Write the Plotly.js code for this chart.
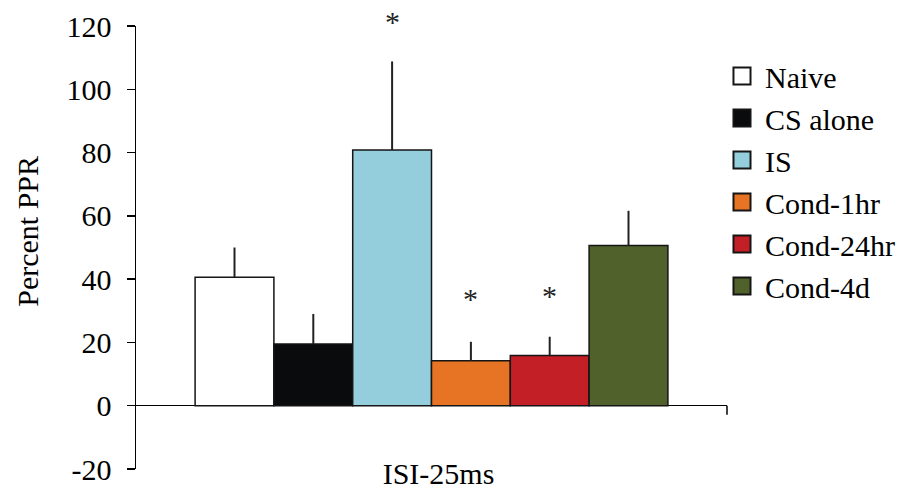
<!DOCTYPE html>
<html>
<head>
<meta charset="utf-8">
<script src="https://cdn.plot.ly/plotly-3.0.1.min.js"></script>
<style>html,body{margin:0;padding:0;background:#fff;}#chart{width:912px;height:494px;}</style>
</head>
<body>
<div id="chart"></div>
<script>
// ---- data ----
const categories = ['ISI-25ms'];
const groups = ['Naive', 'CS alone', 'IS', 'Cond-1hr', 'Cond-24hr', 'Cond-4d'];
const means = [40.6, 19.5, 80.8, 14.2, 15.9, 50.6];
const errorsUp = [9.4, 9.5, 28.0, 6.0, 5.9, 11.0];
const sigMarks = ['', '', '*', '*', '*', ''];
const sigLevels = [null, null, 121.3, 34.0, 34.8, null];
const yTicks = [-20, 0, 20, 40, 60, 80, 100, 120];

const colors = ['#ffffff', '#0a0b0d', '#94cddc', '#e77325', '#c21f27', '#50612c'];
const FONT = 'Liberation Serif, Times New Roman, serif';
const BARGAP = 0.2;
const Y_RANGE = [-20, 120];

const traces = groups.map((g, i) => ({
  type: 'bar',
  name: g,
  x: categories,
  y: [means[i]],
  legendgroup: 'g' + i,
  marker: {color: colors[i], line: {color: '#151515', width: 1.5}},
  error_y: {type: 'data', symmetric: false, array: [errorsUp[i]], arrayminus: [0],
            color: '#222', thickness: 2, width: 0, visible: true},
  hoverinfo: 'none'
}));

// asterisk annotations placed at each bar's centre within the group
const n = groups.length;
const slot = (1 - BARGAP) / n;
const annotations = [];
sigMarks.forEach((m, i) => {
  if (!m) return;
  annotations.push({
    xref: 'x', yref: 'paper',
    x: -(1 - BARGAP) / 2 + slot * (i + 0.5),
    y: (sigLevels[i] - Y_RANGE[0]) / (Y_RANGE[1] - Y_RANGE[0]),
    text: m, showarrow: false, font: {family: FONT, size: 30, color: '#222'},
    xanchor: 'center', yanchor: 'middle'
  });
});
annotations.push({
  xref: 'paper', yref: 'paper', x: -0.184, y: 0.536, text: 'Percent PPR', textangle: -90,
  showarrow: false, font: {family: FONT, size: 30, color: '#000'},
  xanchor: 'center', yanchor: 'middle'
});

const layout = {
  width: 912, height: 494,
  margin: {l: 136, r: 185, t: 25.5, b: 25.3, pad: 0},
  paper_bgcolor: '#fff', plot_bgcolor: '#fff',
  font: {family: FONT, size: 30, color: '#000'},
  barmode: 'group', bargap: BARGAP, bargroupgap: 0,
  showlegend: true,
  legend: {x: 0.9966, xanchor: 'left', y: 0.946, yanchor: 'top', traceorder: 'grouped',
           tracegroupgap: 0, font: {family: FONT, size: 30, color: '#000'},
           bgcolor: 'rgba(0,0,0,0)', borderwidth: 0},
  xaxis: {
    type: 'category', showline: false, showgrid: false, zeroline: false, ticks: '',
    tickfont: {family: FONT, size: 30, color: '#000'}, ticklabelshift: 7, ticklabelstandoff: -16,
    fixedrange: true
  },
  yaxis: {
    range: Y_RANGE, tickvals: yTicks, ticktext: yTicks.map(String),
    showline: true, linecolor: '#000', linewidth: 1.5,
    ticks: 'outside', ticklen: 8, tickwidth: 1.5, tickcolor: '#000',
    showgrid: false, zeroline: true, zerolinecolor: '#000', zerolinewidth: 1.5,
    tickfont: {family: FONT, size: 30, color: '#000'}, ticklabelstandoff: 9,
    fixedrange: true
  },
  shapes: [{
    type: 'line', xref: 'paper', yref: 'y', ysizemode: 'pixel', yanchor: 0,
    x0: 1, x1: 1, y0: 0, y1: -9, line: {color: '#000', width: 1.5}
  }],
  annotations: annotations
};

Plotly.newPlot('chart', traces, layout, {displayModeBar: false, staticPlot: true}).then(gd => {
  // enlarge legend swatches to match the reference's larger squares
  gd.querySelectorAll('.legend .legendpoints path').forEach(p => {
    const t = p.getAttribute('transform') || '';
    p.setAttribute('transform', t + ' translate(-3,0) scale(1.42)');
    p.style.strokeWidth = '1.4px';
  });
});
</script>
</body>
</html>
